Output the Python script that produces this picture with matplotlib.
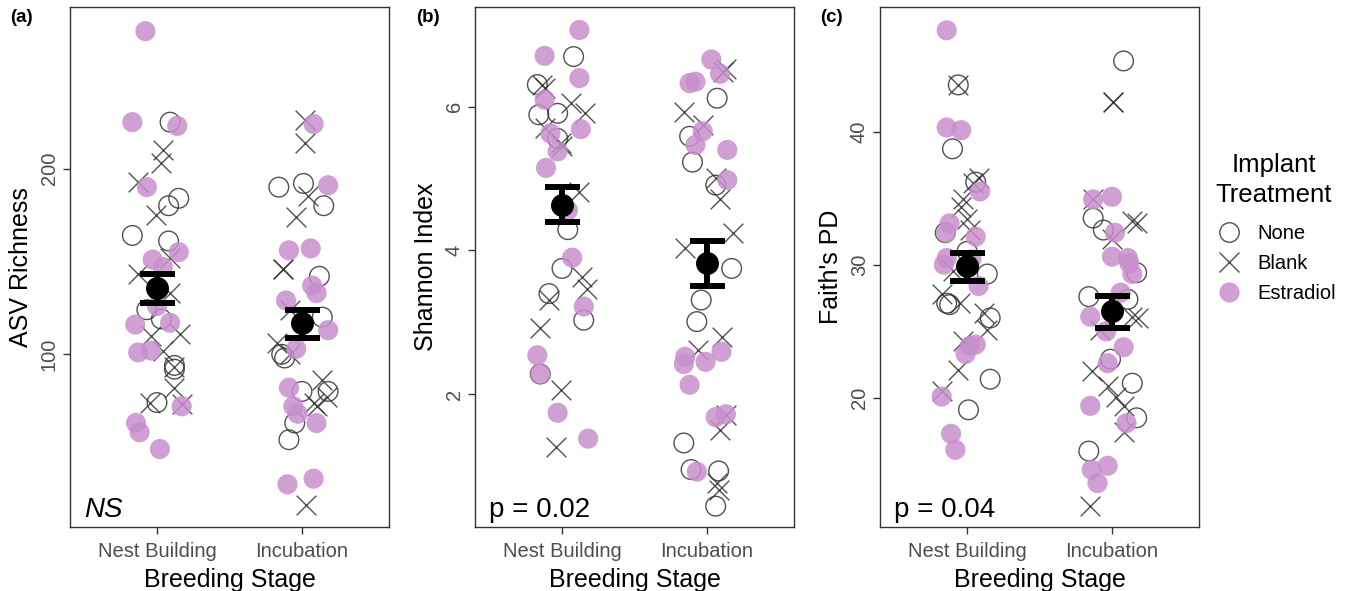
import matplotlib
matplotlib.use("Agg")
import matplotlib.pyplot as plt
from matplotlib.lines import Line2D
import pandas as pd

plt.rcParams["font.family"] = ["Liberation Sans", "DejaVu Sans"]

# x categories
stages = ["Nest Building", "Incubation"]
treatments = ["None", "Blank", "Estradiol"]

# points: (stage index, jitter, value, treatment)
asv_points = [
    (0, -0.08, 274, "E"), (0, -0.17, 225, "E"), (0, 0.09, 225, "N"), (0, 0.14, 223, "E"),
    (0, 0.04, 210, "B"), (0, 0.03, 203, "B"), (0, -0.13, 193, "B"), (0, -0.07, 190, "E"),
    (0, 0.15, 184, "N"), (0, 0.08, 180, "N"), (0, -0.01, 175, "B"), (0, -0.17, 164, "N"),
    (0, 0.08, 161, "N"), (0, 0.15, 155, "E"), (0, -0.03, 151, "E"), (0, 0.09, 152, "B"),
    (0, 0.04, 147, "E"), (0, -0.13, 143, "B"), (0, 0.09, 133, "B"), (0, -0.07, 124, "N"),
    (0, 0.0, 126, "E"), (0, 0.03, 119, "N"), (0, -0.15, 116, "E"), (0, 0.09, 117, "E"),
    (0, -0.04, 110, "B"), (0, 0.16, 111, "B"), (0, -0.13, 101, "E"), (0, -0.04, 102, "E"),
    (0, 0.04, 102, "B"), (0, 0.12, 94, "N"), (0, 0.12, 92, "N"), (0, 0.12, 93, "B"),
    (0, 0.12, 82, "B"), (0, -0.05, 74, "B"), (0, 0.0, 74, "N"), (0, 0.17, 72, "E"),
    (0, 0.17, 73, "B"), (0, -0.145, 63, "E"), (0, -0.12, 58, "E"), (0, 0.02, 49, "E"),
    (1, 0.02, 226, "B"), (1, 0.08, 224, "E"), (1, 0.02, 214, "B"), (1, -0.16, 190, "N"),
    (1, 0.01, 192, "N"), (1, 0.18, 191, "E"), (1, 0.04, 185, "B"), (1, 0.15, 180, "N"),
    (1, -0.04, 174, "B"), (1, -0.09, 156, "E"), (1, 0.06, 157, "E"), (1, -0.13, 146, "B"),
    (1, -0.13, 146, "B"), (1, 0.12, 142, "N"), (1, 0.07, 137, "E"), (1, 0.10, 133, "E"),
    (1, -0.11, 129, "E"), (1, -0.08, 124, "B"), (1, 0.14, 120, "N"), (1, 0.18, 113, "E"),
    (1, -0.17, 106, "B"), (1, -0.14, 100, "N"), (1, -0.12, 98, "N"), (1, -0.08, 100, "B"),
    (1, -0.04, 103, "E"), (1, 0.14, 86, "B"), (1, -0.09, 82, "E"), (1, 0.0, 80, "N"),
    (1, 0.18, 80, "N"), (1, 0.17, 77, "B"), (1, 0.08, 74, "B"), (1, 0.10, 72, "B"),
    (1, -0.06, 72, "E"), (1, -0.03, 68, "E"), (1, -0.05, 63, "N"), (1, 0.10, 63, "E"),
    (1, -0.09, 54, "N"), (1, -0.10, 30, "E"), (1, 0.08, 33, "E"), (1, 0.03, 19, "B"),
]

shannon_points = [
    (0, 0.12, 7.07, "E"), (0, -0.12, 6.71, "E"), (0, 0.08, 6.70, "N"), (0, 0.12, 6.40, "E"),
    (0, -0.17, 6.31, "N"), (0, -0.14, 6.31, "B"), (0, -0.12, 6.26, "B"), (0, -0.12, 6.10, "E"),
    (0, 0.06, 6.05, "B"), (0, 0.16, 5.91, "B"), (0, -0.03, 5.91, "N"), (0, -0.16, 5.89, "N"),
    (0, -0.12, 5.70, "B"), (0, 0.13, 5.69, "E"), (0, -0.08, 5.63, "E"), (0, -0.03, 5.56, "N"),
    (0, -0.01, 5.49, "B"), (0, 0.0, 5.45, "B"), (0, -0.03, 5.38, "E"), (0, -0.11, 5.15, "E"),
    (0, 0.12, 4.82, "B"), (0, 0.04, 4.56, "E"), (0, 0.04, 4.29, "N"), (0, 0.07, 3.90, "E"),
    (0, 0.0, 3.75, "N"), (0, 0.14, 3.63, "B"), (0, 0.17, 3.47, "B"), (0, -0.09, 3.40, "N"),
    (0, -0.09, 3.31, "B"), (0, 0.15, 3.22, "E"), (0, 0.15, 3.03, "N"), (0, -0.15, 2.92, "B"),
    (0, -0.17, 2.54, "E"), (0, -0.15, 2.28, "E"), (0, -0.15, 2.28, "N"), (0, -0.01, 2.06, "B"),
    (0, -0.03, 1.74, "E"), (0, 0.18, 1.38, "E"), (0, -0.04, 1.27, "B"),
    (1, 0.03, 6.66, "E"), (1, 0.11, 6.49, "B"), (1, 0.13, 6.52, "B"), (1, 0.09, 6.46, "E"),
    (1, -0.12, 6.33, "E"), (1, -0.08, 6.35, "E"), (1, 0.07, 6.12, "N"), (1, -0.16, 5.93, "B"),
    (1, -0.03, 5.75, "B"), (1, -0.03, 5.66, "E"), (1, -0.12, 5.59, "N"), (1, -0.08, 5.47, "E"),
    (1, 0.14, 5.40, "E"), (1, -0.10, 5.23, "N"), (1, 0.06, 5.01, "B"), (1, 0.14, 4.98, "E"),
    (1, 0.06, 4.91, "N"), (1, 0.09, 4.71, "B"), (1, 0.18, 4.24, "B"), (1, -0.15, 4.04, "B"),
    (1, 0.17, 3.75, "N"), (1, -0.04, 3.31, "N"), (1, -0.07, 3.01, "N"), (1, 0.10, 2.79, "B"),
    (1, -0.06, 2.61, "B"), (1, -0.15, 2.52, "E"), (1, -0.16, 2.42, "E"), (1, -0.01, 2.45, "E"),
    (1, 0.10, 2.59, "E"), (1, -0.12, 2.13, "E"), (1, 0.06, 1.68, "E"), (1, 0.13, 1.72, "E"),
    (1, 0.13, 1.71, "B"), (1, 0.09, 1.50, "B"), (1, -0.16, 1.32, "N"), (1, -0.11, 0.95, "N"),
    (1, -0.07, 0.92, "E"), (1, 0.08, 0.93, "N"), (1, 0.07, 0.76, "B"), (1, 0.08, 0.66, "B"),
    (1, 0.06, 0.44, "N"),
]

faith_points = [
    (0, -0.14, 47.6, "E"), (0, -0.06, 43.5, "N"), (0, -0.06, 43.5, "B"), (0, -0.14, 40.3, "E"),
    (0, -0.04, 40.1, "E"), (0, -0.10, 38.7, "N"), (0, 0.06, 36.2, "N"), (0, 0.08, 36.5, "B"),
    (0, 0.04, 36.1, "B"), (0, 0.09, 35.5, "E"), (0, -0.03, 34.9, "B"), (0, -0.04, 34.3, "B"),
    (0, 0.0, 33.4, "B"), (0, -0.12, 33.1, "E"), (0, -0.15, 32.4, "N"), (0, -0.145, 32.4, "E"),
    (0, 0.02, 32.6, "B"), (0, 0.06, 32.1, "E"), (0, -0.14, 30.5, "E"), (0, 0.0, 31.0, "N"),
    (0, -0.16, 30.0, "E"), (0, -0.10, 29.5, "B"), (0, 0.03, 30.4, "E"), (0, 0.14, 29.3, "N"),
    (0, 0.08, 28.4, "E"), (0, -0.17, 27.8, "B"), (0, -0.14, 27.1, "N"), (0, -0.12, 27.0, "N"),
    (0, -0.05, 27.1, "B"), (0, 0.12, 26.4, "B"), (0, 0.16, 26.0, "N"), (0, 0.14, 25.1, "B"),
    (0, 0.06, 24.0, "E"), (0, 0.02, 23.9, "E"), (0, -0.03, 24.3, "B"), (0, -0.01, 23.3, "E"),
    (0, -0.06, 22.1, "B"), (0, 0.16, 21.4, "N"), (0, -0.17, 20.5, "B"), (0, -0.175, 20.1, "E"),
    (0, 0.01, 19.1, "N"), (0, -0.11, 17.3, "E"), (0, -0.08, 16.1, "E"),
    (1, 0.08, 45.3, "N"), (1, 0.01, 42.2, "B"), (1, 0.01, 42.2, "B"), (1, -0.13, 34.9, "E"),
    (1, -0.13, 34.9, "B"), (1, 0.0, 35.1, "E"), (1, -0.13, 33.5, "N"), (1, -0.06, 32.6, "N"),
    (1, 0.02, 32.4, "E"), (1, 0.14, 33.3, "B"), (1, 0.17, 33.1, "B"), (1, 0.0, 31.9, "B"),
    (1, 0.0, 30.6, "E"), (1, 0.11, 30.5, "E"), (1, 0.12, 30.1, "E"), (1, 0.17, 29.4, "N"),
    (1, 0.14, 29.3, "E"), (1, -0.16, 27.6, "N"), (1, 0.06, 27.9, "E"), (1, 0.11, 27.4, "N"),
    (1, -0.15, 26.1, "E"), (1, 0.18, 26.0, "B"), (1, 0.14, 26.1, "B"), (1, -0.08, 25.1, "B"),
    (1, -0.04, 25.0, "E"), (1, 0.08, 23.8, "E"), (1, -0.01, 22.9, "N"), (1, -0.03, 22.6, "E"),
    (1, -0.14, 22.0, "B"), (1, 0.14, 21.1, "N"), (1, -0.03, 20.9, "B"), (1, 0.03, 20.1, "B"),
    (1, 0.08, 19.4, "B"), (1, -0.15, 19.4, "E"), (1, 0.17, 18.5, "N"), (1, 0.10, 18.1, "E"),
    (1, 0.08, 17.4, "B"), (1, -0.16, 16.0, "N"), (1, -0.03, 14.9, "E"), (1, -0.14, 14.6, "E"),
    (1, -0.10, 13.6, "E"), (1, -0.15, 11.9, "B"),
]

# group means with error bar ends
asv_mean = [135.5, 116.7]
asv_low = [127.4, 108.6]
asv_high = [143.0, 124.0]
shannon_mean = [4.63, 3.83]
shannon_low = [4.40, 3.51]
shannon_high = [4.88, 4.13]
faith_mean = [29.9, 26.5]
faith_low = [28.75, 25.25]
faith_high = [30.88, 27.62]

PINK = "#c88ecd"
DARK = "#333333"


def draw_panel(ax, points, mean, low, high, ylabel, yticks, ylim, note, note_italic):
    df = pd.DataFrame(points, columns=["stage", "jitter", "value", "treat"])
    df["x"] = df["stage"] + df["jitter"]
    for code in ["N", "B", "E"]:
        sub = df[df["treat"] == code]
        if code == "N":
            ax.scatter(sub["x"], sub["value"], s=200, facecolors="none",
                       edgecolors=DARK, linewidths=1.0, alpha=0.85, zorder=2)
        elif code == "B":
            ax.scatter(sub["x"], sub["value"], s=200, marker="x", c=DARK,
                       linewidths=1.0, alpha=0.85, zorder=2)
        else:
            ax.scatter(sub["x"], sub["value"], s=210, c=PINK, edgecolors="none",
                       alpha=0.85, zorder=2)

    xs = [0, 1]
    err = [[m - l for m, l in zip(mean, low)], [h - m for m, h in zip(mean, high)]]
    ax.errorbar(xs, mean, yerr=err, fmt="o", color="black", ms=15.5, elinewidth=4.3,
                capsize=12.6, capthick=4.3, zorder=5)

    ax.set_xlim(-0.6, 1.6)
    ax.set_ylim(*ylim)
    ax.set_xticks(xs)
    ax.set_xticklabels(stages, fontsize=14.5, color="#4d4d4d")
    ax.set_yticks(yticks)
    ax.set_yticklabels([str(t) for t in yticks], fontsize=14.5, color="#4d4d4d",
                       rotation=90, va="center")
    ax.tick_params(length=5, width=1.0, color="#333333")
    ax.tick_params(axis="x", pad=5.5)
    ax.tick_params(axis="y", pad=3)
    ax.set_xlabel("Breeding Stage", fontsize=18, labelpad=5)
    ax.set_ylabel(ylabel, fontsize=18, labelpad=5)
    for sp in ax.spines.values():
        sp.set_color("#333333")
        sp.set_linewidth(1.0)
    ax.text(0.045, 0.02, note, transform=ax.transAxes, fontsize=20,
            style="italic" if note_italic else "normal", ha="left", va="baseline")


fig = plt.figure(figsize=(13.49, 5.91), dpi=100)
W, H = 1349, 591
top, bottom = 7, 527
lefts = [70, 475, 880]
width = 319

axes = [fig.add_axes([l / W, 1 - bottom / H, width / W, (bottom - top) / H]) for l in lefts]

draw_panel(axes[0], asv_points, asv_mean, asv_low, asv_high, "ASV Richness",
           [100, 200], (7, 287), "NS", True)
draw_panel(axes[1], shannon_points, shannon_mean, shannon_low, shannon_high, "Shannon Index",
           [2, 4, 6], (0.15, 7.39), "p = 0.02", False)
draw_panel(axes[2], faith_points, faith_mean, faith_low, faith_high, "Faith's PD",
           [20, 30, 40], (10.3, 49.35), "p = 0.04", False)

for label, x in zip(["(a)", "(b)", "(c)"], [10, 416, 820]):
    fig.text(x / W, 1 - 18 / H, label, fontsize=13.5, fontweight="bold", ha="left", va="center")

# legend: title as its own text, entries below
fig.text(1274 / W, 1 - 180 / H, "Implant\nTreatment", fontsize=18.5, ha="center",
         va="center", multialignment="center", linespacing=1.33)
handles = [
    Line2D([], [], marker="o", ls="none", ms=14, mfc="none", mec=DARK, mew=1.0, alpha=0.85),
    Line2D([], [], marker="x", ls="none", ms=14, color=DARK, mew=1.0, alpha=0.85),
    Line2D([], [], marker="o", ls="none", ms=14.5, mfc=PINK, mec="none", alpha=0.85),
]
fig.legend(handles, treatments, loc="upper left", bbox_to_anchor=(1217 / W, 1 - 224 / H),
           frameon=False, fontsize=14.5, labelspacing=0.55, handletextpad=0.8,
           handlelength=1.2, borderaxespad=0, borderpad=0)

fig.savefig("out.png", dpi=100)
